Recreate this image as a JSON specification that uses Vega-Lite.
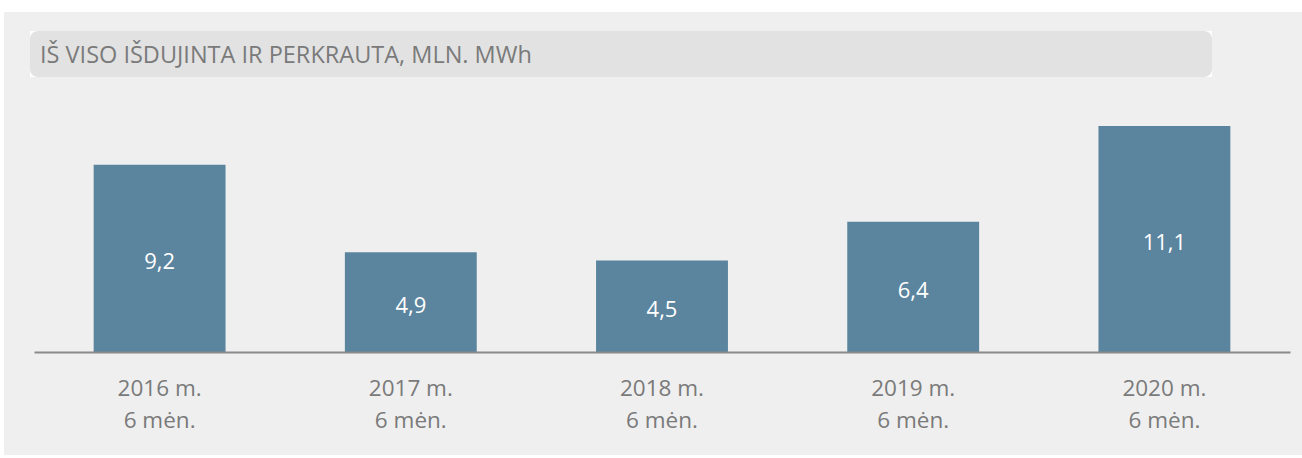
{
  "$schema": "https://vega.github.io/schema/vega-lite/v6.json",
  "background": "white",
  "padding": {"left": 4, "top": 12, "right": 0, "bottom": 3},
  "spacing": 0,
  "config": {
    "view": {"stroke": null},
    "concat": {"spacing": 0},
    "locale": {"number": {"decimal": ",", "thousands": "\u00a0", "grouping": [3], "currency": ["", "\u00a0€"]}},
    "font": "Open Sans"
  },
  "vconcat": [
    {
      "width": 1298, "height": 19,
      "data": {"values": []},
      "mark": "text", "encoding": {},
      "view": {"fill": "#efefef", "stroke": null}
    },
    {
      "spacing": 0,
      "hconcat": [
        {
          "width": 26, "height": 46,
          "data": {"values": []},
          "mark": "text", "encoding": {},
          "view": {"fill": "#efefef", "stroke": null}
        },
        {
          "width": 1182, "height": 46,
          "data": {"values": []},
          "mark": "text", "encoding": {},
          "view": {"fill": "#e2e2e2", "stroke": null, "cornerRadius": 8},
          "title": {
            "text": "IŠ VISO IŠDUJINTA IR PERKRAUTA, MLN. MWh",
            "anchor": "start", "frame": "group", "orient": "top",
            "offset": -23, "baseline": "middle", "dx": 10, "dy": 25,
            "font": "Open Sans", "fontSize": 23.5, "fontWeight": "normal", "color": "#7a7a7a"
          }
        },
        {
          "width": 90, "height": 46,
          "data": {"values": []},
          "mark": "text", "encoding": {},
          "view": {"fill": "#efefef", "stroke": null}
        }
      ]
    },
    {
      "width": 1298, "height": 378,
      "view": {"fill": "#efefef", "stroke": null},
      "data": {"values": [
        {"period": "2016 m.|6 mėn.", "value": 9.2},
        {"period": "2017 m.|6 mėn.", "value": 4.9},
        {"period": "2018 m.|6 mėn.", "value": 4.5},
        {"period": "2019 m.|6 mėn.", "value": 6.4},
        {"period": "2020 m.|6 mėn.", "value": 11.1}
      ]},
      "transform": [{"calculate": "datum.value / 2", "as": "mid"}],
      "encoding": {
        "x": {
          "field": "period", "type": "nominal", "sort": null,
          "scale": {"range": [30, 1286], "paddingInner": 0.475, "paddingOuter": 0.2375},
          "axis": {
            "title": null, "orient": "bottom", "offset": -103,
            "labelExpr": "split(datum.label, '|')",
            "labelAngle": 0, "labelFont": "Open Sans", "labelFontSize": 22.5,
            "labelColor": "#7a7a7a", "labelLineHeight": 32, "labelBaseline": "middle",
            "labelPadding": 36, "ticks": false, "tickSize": 0, "grid": false,
            "domainColor": "#8a8a8a", "domainWidth": 2, "zindex": 1
          }
        }
      },
      "layer": [
        {
          "mark": {"type": "bar", "color": "#5b849e"},
          "encoding": {
            "y": {"field": "value", "type": "quantitative",
                  "scale": {"domain": [0, 11.1], "range": [275, 49], "nice": false, "zero": true},
                  "axis": null}
          }
        },
        {
          "mark": {"type": "text", "color": "white", "font": "Open Sans", "fontSize": 22, "baseline": "middle", "dy": 4},
          "encoding": {
            "y": {"field": "mid", "type": "quantitative"},
            "text": {"field": "value", "type": "quantitative", "format": ".1f"}
          }
        }
      ]
    }
  ]
}
